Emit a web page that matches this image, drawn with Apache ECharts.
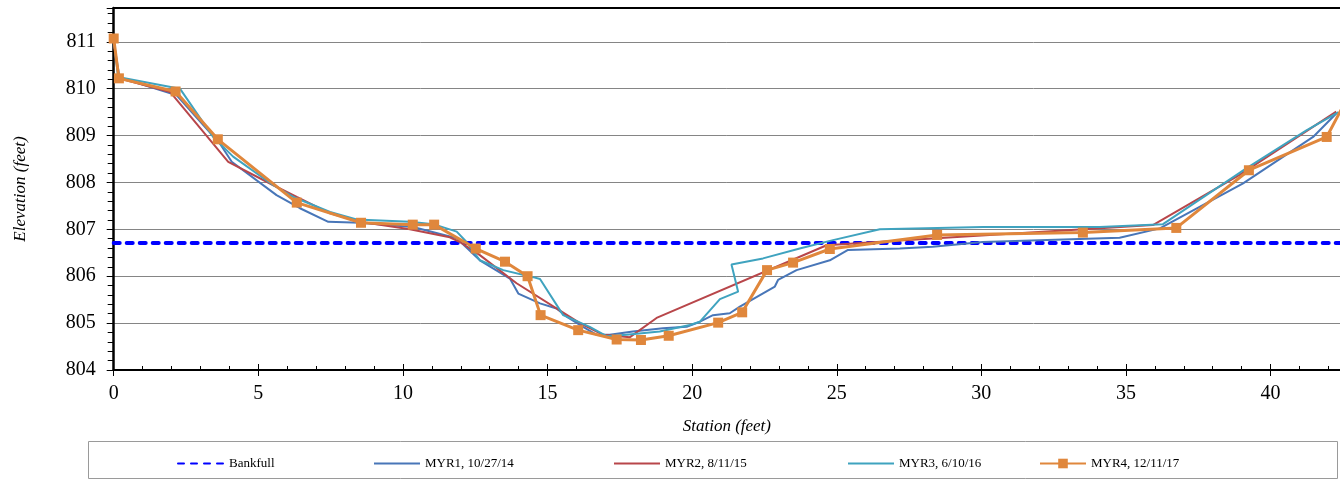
<!DOCTYPE html>
<html>
<head>
<meta charset="utf-8">
<script src="https://cdn.jsdelivr.net/npm/echarts@6/dist/echarts.min.js"></script>
<style>
  html, body { margin: 0; padding: 0; background: #fff; }
  #chart { width: 1340px; height: 480px; }
</style>
</head>
<body>
<div id="chart"></div>
<script>
// cross section survey data (station ft, elevation ft)
const bankfullX = [0, 42.4];
const bankfullY = [806.71, 806.71];

const myr1X = [0, 0.2, 2.18, 3.67, 4.08, 5.63, 6.44, 7.42, 8.51, 10.35, 11.86, 12.66, 13.70, 13.99, 14.74, 15.31, 15.66, 16.23, 16.70, 17.15, 17.95, 18.99, 19.81, 20.27, 20.72, 21.30, 21.65, 22.86, 22.97, 23.61, 24.76, 25.39, 27.18, 28.32, 30.05, 34.78, 36.17, 39.05, 41.47, 42.27];
const myr1Y = [811.01, 810.24, 809.86, 808.83, 808.44, 807.73, 807.45, 807.16, 807.14, 807.05, 806.81, 806.34, 805.95, 805.63, 805.42, 805.31, 805.14, 804.92, 804.75, 804.75, 804.82, 804.89, 804.92, 805.03, 805.17, 805.21, 805.35, 805.78, 805.92, 806.13, 806.34, 806.56, 806.59, 806.63, 806.73, 806.82, 807.02, 807.98, 808.97, 809.47];

const myr2X = [0, 0.18, 1.95, 3.96, 5.52, 6.33, 7.48, 8.51, 10.24, 11.62, 11.97, 12.66, 13.93, 16.12, 16.92, 17.85, 18.77, 24.65, 27.18, 35.93, 38.93, 42.27];
const myr2Y = [811.01, 810.22, 809.93, 808.44, 807.94, 807.69, 807.34, 807.16, 807.00, 806.83, 806.73, 806.45, 805.85, 805.00, 804.75, 804.70, 805.11, 806.66, 806.76, 807.09, 808.16, 809.51];

const myr3X = [0, 0.15, 2.29, 3.44, 4.13, 5.52, 6.21, 7.48, 8.40, 10.24, 11.05, 11.86, 12.20, 12.66, 13.47, 14.50, 14.74, 15.54, 16.46, 17.04, 17.73, 18.88, 19.92, 20.27, 20.96, 21.59, 21.36, 22.45, 23.72, 24.87, 26.49, 30.06, 34.09, 36.28, 39.16, 41.24, 42.35];
const myr3Y = [811.08, 810.25, 810.00, 808.97, 808.55, 807.94, 807.69, 807.37, 807.21, 807.16, 807.11, 806.95, 806.73, 806.34, 806.13, 805.98, 805.94, 805.17, 804.92, 804.72, 804.75, 804.82, 804.96, 805.03, 805.51, 805.67, 806.25, 806.38, 806.59, 806.77, 807.00, 807.05, 807.05, 807.11, 808.30, 809.11, 809.50];

const myr4X = [0, 0.18, 2.14, 3.60, 6.33, 8.55, 10.34, 11.08, 12.52, 13.53, 14.31, 14.76, 16.06, 17.39, 18.23, 19.19, 20.90, 21.73, 22.59, 23.49, 24.76, 28.47, 33.51, 36.74, 39.25, 41.94, 43.0];
const myr4Y = [811.07, 810.22, 809.94, 808.92, 807.57, 807.14, 807.10, 807.10, 806.59, 806.31, 806.00, 805.17, 804.85, 804.65, 804.64, 804.73, 805.01, 805.23, 806.13, 806.29, 806.58, 806.88, 806.93, 807.03, 808.26, 808.97, 810.20];

const xTicks = [0, 5, 10, 15, 20, 25, 30, 35, 40];
const yTicks = [804, 805, 806, 807, 808, 809, 810, 811];

const seriesNames = ['Bankfull', 'MYR1, 10/27/14', 'MYR2, 8/11/15', 'MYR3, 6/10/16', 'MYR4, 12/11/17'];
const legendLeft = [172, 368, 608, 842, 1034];

const serif = "'Liberation Serif', 'Times New Roman', serif";
const pairs = (xs, ys) => xs.map((x, i) => [x, ys[i]]);

const xMin = 0, xMax = 42.4, yMin = 804, yMax = 811.72;

// one legend per entry so each can sit where Excel put it
const legends = seriesNames.map((name, i) => ({
  left: legendLeft[i], top: 452,
  itemWidth: 46, itemHeight: 12,
  textStyle: { fontFamily: serif, fontSize: 13, color: '#000' },
  data: [i === 4 ? name : { name: name, itemStyle: { opacity: 0 } }]
}));

const chart = echarts.init(document.getElementById('chart'));
chart.setOption({
  animation: false,
  backgroundColor: '#fff',
  grid: { left: 113.7, right: 0, top: 8, bottom: 110, containLabel: false, outerBoundsMode: 'none' },
  graphic: [{
    type: 'rect',
    shape: { x: 88.5, y: 441.5, width: 1249, height: 37 },
    style: { fill: 'none', stroke: '#9a9a9a', lineWidth: 1 },
    z: 0
  }],
  legend: legends,
  xAxis: [
    {
      type: 'value', min: xMin, max: xMax, interval: 5, position: 'bottom',
      name: 'Station (feet)', nameLocation: 'middle', nameGap: 48,
      nameTextStyle: { fontFamily: serif, fontStyle: 'italic', fontSize: 17, color: '#000' },
      axisLine: { onZero: false, lineStyle: { color: '#000', width: 2 } },
      axisTick: { length: 6, lineStyle: { color: '#000', width: 1 } },
      axisLabel: {
        margin: 14, fontFamily: serif, fontSize: 20, color: '#000',
        formatter: v => (xTicks.includes(v) ? String(v) : '')
      },
      splitLine: { show: false }
    },
    {
      type: 'value', min: xMin, max: xMax, interval: 5, position: 'bottom',
      axisLine: { show: false },
      axisTick: { inside: true, length: 6, lineStyle: { color: '#000', width: 1 } },
      minorTick: { show: true, splitNumber: 5, length: 4, lineStyle: { color: '#000', width: 1 } },
      axisLabel: { show: false },
      splitLine: { show: false }
    },
    {
      type: 'value', min: xMin, max: xMax, position: 'top',
      axisLine: { lineStyle: { color: '#000', width: 2 } },
      axisTick: { show: false }, axisLabel: { show: false }, splitLine: { show: false }
    }
  ],
  yAxis: [
    {
      type: 'value', min: yMin, max: yMax, interval: 1,
      name: 'Elevation (feet)', nameLocation: 'middle', nameGap: 85,
      nameTextStyle: { fontFamily: serif, fontStyle: 'italic', fontSize: 17, color: '#000' },
      axisLine: { onZero: false, lineStyle: { color: '#000', width: 2.5 } },
      axisTick: { length: 7, lineStyle: { color: '#000', width: 1 } },
      axisLabel: {
        margin: 18, fontFamily: serif, fontSize: 20, color: '#000',
        formatter: v => (yTicks.includes(Math.round(v * 100) / 100) ? String(Math.round(v)) : '')
      },
      splitLine: { lineStyle: { color: '#858585', width: 1 } }
    },
    {
      type: 'value', min: yMin, max: yMax, interval: 1,
      axisLine: { show: false },
      axisTick: { show: false, inside: true },
      minorTick: { show: true, splitNumber: 5, length: 6, lineStyle: { color: '#000', width: 1 } },
      axisLabel: { show: false },
      splitLine: { show: false }
    }
  ],
  series: [
    {
      name: seriesNames[0], type: 'line', symbol: 'none',
      data: pairs(bankfullX, bankfullY),
      itemStyle: { color: '#0000ff' },
      lineStyle: { color: '#0000ff', width: 4, type: [6, 7], cap: 'round' },
      z: 2
    },
    {
      name: seriesNames[1], type: 'line', symbol: 'none',
      data: pairs(myr1X, myr1Y),
      itemStyle: { color: '#4876b8' },
      lineStyle: { color: '#4876b8', width: 2 },
      z: 3
    },
    {
      name: seriesNames[2], type: 'line', symbol: 'none',
      data: pairs(myr2X, myr2Y),
      itemStyle: { color: '#b8464a' },
      lineStyle: { color: '#b8464a', width: 2 },
      z: 3
    },
    {
      name: seriesNames[3], type: 'line', symbol: 'none',
      data: pairs(myr3X, myr3Y),
      itemStyle: { color: '#3fa3bf' },
      lineStyle: { color: '#3fa3bf', width: 2 },
      z: 3
    },
    {
      name: seriesNames[4], type: 'line', symbol: 'rect', symbolSize: 10, showAllSymbol: true,
      data: pairs(myr4X, myr4Y),
      itemStyle: { color: '#e0873c' },
      lineStyle: { color: '#e0873c', width: 3 },
      z: 4
    }
  ]
});
</script>
</body>
</html>
